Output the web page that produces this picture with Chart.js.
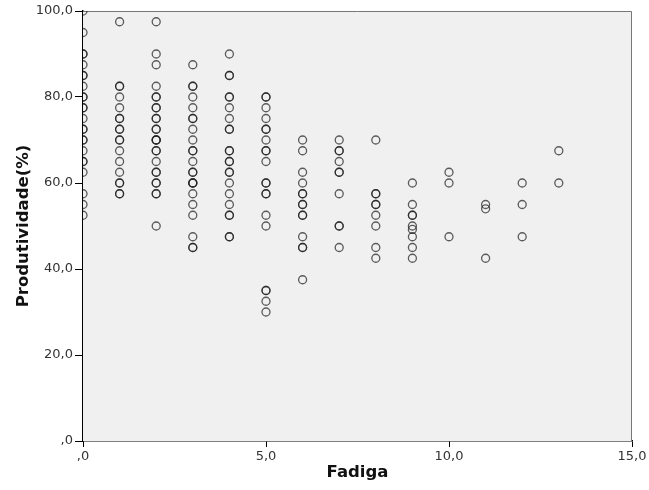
<!DOCTYPE html>
<html>
<head>
<meta charset="utf-8">
<script src="https://cdn.jsdelivr.net/npm/chart.js@4/dist/chart.umd.min.js"></script>
<style>
  body { margin: 0; background: #fff; }
  canvas { display: block; }
</style>
</head>
<body>
<canvas id="grafico" width="649" height="490"></canvas>
<script>
// Fadiga x Produtividade(%) - um array de produtividade por nível de fadiga
const fadiga = [0, 1, 2, 3, 4, 5, 6, 7, 8, 9, 10, 11, 12, 13];

const prod0 = [100, 95, 90, 90, 87.5, 85, 85, 82.5, 80, 80, 77.5, 77.5, 75, 72.5, 72.5, 70, 70, 67.5, 65, 65, 62.5, 57.5, 55, 52.5];
const prod1 = [97.5, 82.5, 82.5, 80, 77.5, 75, 75, 72.5, 72.5, 70, 70, 67.5, 65, 62.5, 60, 60, 57.5, 57.5];
const prod2 = [97.5, 90, 87.5, 82.5, 80, 80, 77.5, 77.5, 75, 75, 72.5, 72.5, 70, 70, 70, 67.5, 67.5, 65, 62.5, 62.5, 60, 60, 57.5, 57.5, 50];
const prod3 = [87.5, 82.5, 82.5, 80, 77.5, 75, 75, 72.5, 70, 67.5, 67.5, 65, 62.5, 62.5, 60, 60, 60, 57.5, 55, 52.5, 47.5, 45, 45];
const prod4 = [90, 85, 85, 80, 80, 77.5, 75, 72.5, 72.5, 67.5, 67.5, 65, 65, 62.5, 62.5, 60, 57.5, 55, 52.5, 52.5, 47.5, 47.5];
const prod5 = [80, 80, 77.5, 75, 72.5, 72.5, 70, 67.5, 67.5, 65, 60, 60, 57.5, 57.5, 52.5, 50, 35, 35, 32.5, 30];
const prod6 = [70, 67.5, 62.5, 60, 57.5, 57.5, 55, 55, 52.5, 52.5, 47.5, 45, 45, 37.5];
const prod7 = [70, 67.5, 67.5, 65, 62.5, 62.5, 57.5, 50, 50, 45];
const prod8 = [70, 57.5, 57.5, 55, 55, 52.5, 50, 45, 42.5];
const prod9 = [60, 55, 52.5, 52.5, 50, 49.2, 47.5, 45, 42.5];
const prod10 = [62.5, 60, 47.5];
const prod11 = [55, 54, 42.5];
const prod12 = [60, 55, 47.5];
const prod13 = [67.5, 60];

const produtividade = [prod0, prod1, prod2, prod3, prod4, prod5, prod6, prod7, prod8, prod9, prod10, prod11, prod12, prod13];

const xTicks = [0, 5, 10, 15];
const yTicks = [0, 20, 40, 60, 80, 100];

const pontos = [];
fadiga.forEach((f, i) => {
    produtividade[i].forEach(p => pontos.push({ x: f, y: p }));
});

// formato SPSS: vírgula decimal e sem zero à esquerda (",0")
function fmt(v){
    let s = Number(v).toFixed(1).replace('.', ',');
    if (s.startsWith('0,')) s = s.slice(1);
    return s;
}

// fundo cinza da área do gráfico + moldura
const fundoPlot = {
    id: 'fundoPlot',
    beforeDatasetsDraw(chart){
        const { ctx, chartArea: a } = chart;
        ctx.save();
        ctx.fillStyle = '#f0f0f0';
        ctx.fillRect(a.left, a.top, a.right - a.left, a.bottom - a.top);
        ctx.strokeStyle = '#777';
        ctx.lineWidth = 1;
        ctx.beginPath();
        ctx.moveTo(a.left, a.top + 0.5);
        ctx.lineTo(a.right - 0.5, a.top + 0.5);
        ctx.lineTo(a.right - 0.5, a.bottom);
        ctx.stroke();
        ctx.restore();
    }
};

const tickFont = { family: 'DejaVu Sans', size: 13 };
const titleFont = { family: 'DejaVu Sans', size: 16.5, weight: 'bold' };

new Chart(document.getElementById('grafico'), {
    type: 'scatter',
    data: {
        datasets: [{
            data: pontos,
            clip: 0,
            pointStyle: 'circle',
            pointRadius: 4,
            pointHoverRadius: 4,
            borderWidth: 1.3,
            borderColor: 'rgba(25,25,25,0.7)',
            backgroundColor: 'rgba(0,0,0,0)'
        }]
    },
    options: {
        responsive: false,
        animation: false,
        layout: { padding: { left: 0, right: 17, top: 11, bottom: 0 } },
        plugins: { legend: { display: false }, tooltip: { enabled: false } },
        scales: {
            x: {
                type: 'linear',
                min: 0, max: 15,
                afterFit: s => { s.height = 49; },
                afterBuildTicks: s => { s.ticks = xTicks.map(v => ({ value: v })); },
                ticks: { callback: fmt, font: tickFont, color: '#333', padding: 2, maxRotation: 0 },
                grid: { drawOnChartArea: false, drawTicks: true, tickLength: 6, color: '#000' },
                border: { display: true, color: '#000', width: 1.5 },
                title: { display: true, text: 'Fadiga', font: titleFont, color: '#111', padding: { top: 0, bottom: 7 } }
            },
            y: {
                type: 'linear',
                min: 0, max: 100,
                afterFit: s => { s.width = 83; },
                afterBuildTicks: s => { s.ticks = yTicks.map(v => ({ value: v })); },
                ticks: { callback: fmt, font: tickFont, color: '#333', padding: 2 },
                grid: { drawOnChartArea: false, drawTicks: true, tickLength: 8, color: '#000' },
                border: { display: true, color: '#000', width: 1.5 },
                title: { display: true, text: 'Produtividade(%)', font: titleFont, color: '#111', padding: { top: 14, bottom: 0 } }
            }
        }
    },
    plugins: [fundoPlot]
});
</script>
</body>
</html>
